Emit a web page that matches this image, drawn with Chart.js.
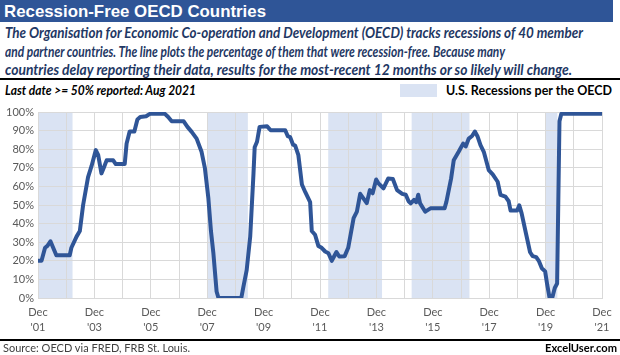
<!DOCTYPE html>
<html><head><meta charset="utf-8">
<script src="https://cdn.jsdelivr.net/npm/chart.js@4.4.0/dist/chart.umd.min.js"></script>
<style>
body{margin:0;width:620px;height:355px;background:#fff;position:relative;overflow:hidden;font-family:Lato,'Open Sans',sans-serif;}
.t{position:absolute;white-space:nowrap;display:inline-block;transform-origin:0 50%;line-height:16px;}
#bar{position:absolute;left:0;top:0;width:613px;height:22px;background:#2f5597;}
#title{left:4px;top:3px;color:#fff;font:bold 17px 'Liberation Sans',Arial,sans-serif;line-height:17px;}
.sub{left:5px;color:#1f3864;font-style:italic;font-weight:bold;font-size:14.5px;}
.rule{position:absolute;left:0;width:620px;background:#000;}
#note{left:5px;top:82px;font-style:italic;font-weight:bold;font-size:14px;color:#000;}
#legbox{position:absolute;left:400px;top:84px;width:37px;height:13px;background:#dae3f3;}
#legtxt{left:446px;top:82px;font-weight:bold;font-size:14px;color:#000;}
#src{left:3px;top:341px;font-size:11.5px;color:#404040;line-height:14px;}
#brand{left:545px;top:341px;font-size:11.5px;font-weight:bold;color:#000;line-height:14px;}
#cv{position:absolute;left:0;top:100px;}
</style></head>
<body>
<div id="bar"></div>
<span class="t" id="title" data-w="262">Recession-Free OECD Countries</span>
<span class="t sub" style="top:25px" data-w="578">The Organisation for Economic Co-operation and Development (OECD) tracks recessions of 40 member</span>
<span class="t sub" style="top:43.5px" data-w="500">and partner countries. The line plots the percentage of them that were recession-free. Because many</span>
<span class="t sub" style="top:62px" data-w="567">countries delay reporting their data, results for the most-recent 12 months or so likely will change.</span>
<div class="rule" style="top:78px;height:2px"></div>
<span class="t" id="note" data-w="191">Last date &gt;= 50% reported: Aug 2021</span>
<div id="legbox"></div>
<span class="t" id="legtxt" data-w="166">U.S. Recessions per the OECD</span>
<canvas id="cv" width="620" height="240"></canvas>
<div class="rule" style="top:339px;height:1.5px"></div>
<span class="t" id="src" data-w="187">Source: OECD via FRED, FRB St. Louis.</span>
<span class="t" id="brand" data-w="72">ExcelUser.com</span>
<script>
// Month index: 0 = Dec 2001, 240 = Dec 2021
const months = [0,1.5,3,4,5.3,7.8,13.5,14.2,16.4,17.8,19.2,21.3,22.8,24.6,25.6,27,28,29.2,32,33.1,36.9,37.7,39,41,42.3,43.5,46,47.6,54,55.4,56.9,62,63.6,65.4,67.5,69.6,71,72.5,73.6,74.6,76,76.8,86.5,87.4,88.8,90.3,91.7,92.2,93.2,94.3,97.5,99,105.2,106.3,107.3,108.5,109.4,110.8,112.3,113.7,115.8,116.5,117.9,119.3,120.7,122.2,123.6,125,127,128.2,130.5,132,134.3,135.7,137.1,139.9,141.2,142.4,143.9,144.9,147,149,151,152.8,155,156.5,157.7,158.6,160,161,161.8,162.6,164.8,167,173,173.8,175.8,176.9,179,180.9,182,183.3,184.7,185.9,187,188.3,189.7,191.8,193.5,195.6,196.8,198.9,200.3,201.1,203.9,204.8,205.8,207.7,209.4,210.5,212,213.1,214.4,215.8,216.7,217.7,218.8,219.9,220.9,221.9,222.7,240];
const values = [20,20,27,28,30.5,23,23,27,33,36,50,65,71,79.5,77,67,70,74,74,72,72,83,89.5,89.5,96,97.3,97.7,99,99,97.3,95,95,92,89.3,85.7,78.6,70,53.6,36,24.5,3.5,0,0,6,15,33,67,81,84,92,92.3,90.2,90.2,87,86.5,82.5,82,76.8,61,57,51.5,36,34,28,27,25,24.1,20,24.7,22.3,22.5,27,42.9,46.4,56,51,58,56.3,63.7,61.6,59,64.2,64,58,56,55.5,52,50.9,52.7,51.5,55.5,50.9,46.4,48.2,48.2,51.8,64.3,74,78.6,83,81.5,85.7,87.1,89.5,87,82.2,78.6,68.8,66.5,62.5,55.4,54.5,52,47,47,49.8,45.5,34.4,24.6,22.5,22,20,16,14.3,7,0,0,5.4,7.8,95,99,99];
const recessionStart = [0, 72, 123.5, 159, 216];
const recessionEnd = [14.7, 89.3, 146.4, 183.6, 221];
const xTickLabels = ["Dec '01","Dec '03","Dec '05","Dec '07","Dec '09","Dec '11","Dec '13","Dec '15","Dec '17","Dec '19","Dec '21"];
const yTicks = [0,10,20,30,40,50,60,70,80,90,100];

document.querySelectorAll('[data-w]').forEach(el=>{
  const w = el.getBoundingClientRect().width;
  el.style.transform = 'scaleX(' + (parseFloat(el.dataset.w)/w) + ')';
});

const shade = {
  id:'shade',
  beforeDraw(chart){
    const {ctx, chartArea:a, scales:{x}} = chart;
    ctx.save();
    ctx.fillStyle = '#dae3f3';
    recessionStart.forEach((s,i)=>{
      const x0 = x.getPixelForValue(s), x1 = x.getPixelForValue(recessionEnd[i]);
      ctx.fillRect(x0, a.top, x1-x0, a.bottom-a.top);
    });
    ctx.restore();
  }
};

new Chart(document.getElementById('cv'), {
  type:'line',
  data:{datasets:[{
    data: months.map((m,i)=>({x:m, y:values[i]})),
    borderColor:'#2f5597', borderWidth:4, pointRadius:0, tension:0,
    borderJoinStyle:'round', borderCapStyle:'round', fill:false
  }]},
  options:{
    responsive:false, animation:false,
    layout:{padding:{top:12,right:18,left:0,bottom:0}},
    plugins:{legend:{display:false}, tooltip:{enabled:false}},
    scales:{
      x:{type:'linear', min:0, max:240,
        afterFit(s){s.height=42;},
        grid:{color:'#d9d9d9', drawTicks:false},
        border:{color:'#d9d9d9'},
        afterBuildTicks(s){s.ticks = []; for(let v=0; v<=240; v+=12) s.ticks.push({value:v});},
        ticks:{autoSkip:false, maxRotation:0, padding:7, color:'#595959',
          font:{family:'Lato', size:11, lineHeight:1.35},
          callback(v){ return v%24===0 ? xTickLabels[v/24].split(' ') : ''; }}
      },
      y:{min:0, max:100,
        afterFit(s){s.width=38;},
        afterBuildTicks(s){s.ticks = yTicks.map(v=>({value:v}));},
        grid:{color:'#d9d9d9', drawTicks:false},
        border:{color:'#d9d9d9'},
        ticks:{padding:4, color:'#595959', font:{family:'Lato', size:11},
          callback(v){return v+'%';}}
      }
    }
  },
  plugins:[shade]
});
</script>
</body></html>
